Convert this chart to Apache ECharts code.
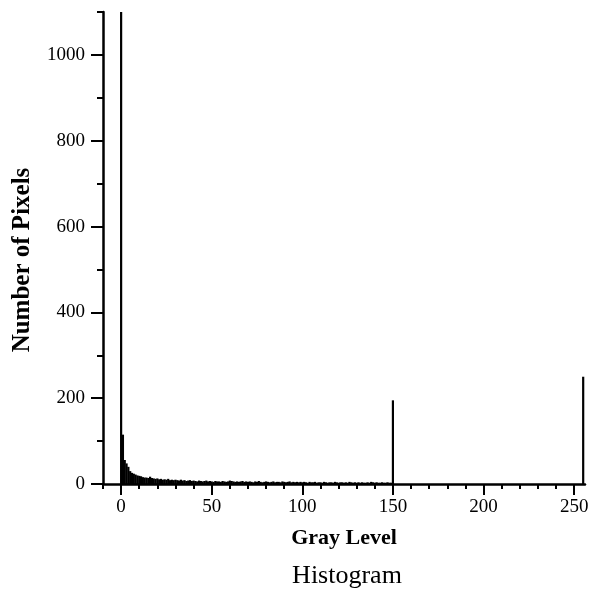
<!DOCTYPE html>
<html>
<head>
<meta charset="utf-8">
<script src="https://cdn.jsdelivr.net/npm/echarts@6/dist/echarts.min.js"></script>
<style>
  html, body { margin: 0; padding: 0; background: #fff; }
  #chart { width: 593px; height: 595px; }
</style>
</head>
<body>
<div id="chart"></div>
<script>
// pixel count for each gray level 0..255
const pixelCounts = [
  1100, 115, 56, 48, 40, 30, 26, 24, 22, 20,
  19, 18, 16, 15, 15, 14, 17, 14, 13, 12,
  13, 11, 12, 10, 11, 10, 12, 9, 10, 9,
  10, 9, 8, 10, 8, 9, 7, 8, 9, 7,
  8, 7, 6, 8, 7, 6, 7, 8, 6, 7,
  6, 5, 7, 6, 6, 5, 7, 6, 5, 6,
  8, 7, 6, 5, 6, 5, 6, 7, 5, 6,
  5, 6, 5, 4, 6, 5, 7, 5, 4, 5,
  6, 5, 4, 5, 6, 4, 5, 5, 4, 6,
  5, 4, 5, 6, 4, 5, 4, 5, 4, 5,
  4, 5, 4, 3, 5, 4, 4, 5, 3, 4,
  4, 3, 5, 4, 3, 4, 4, 3, 5, 4,
  3, 4, 4, 3, 4, 3, 5, 4, 3, 4,
  3, 4, 3, 4, 3, 3, 4, 3, 5, 4,
  3, 4, 3, 3, 4, 3, 3, 4, 3, 3,
  195, 0, 0, 0, 0, 0, 0, 0, 0, 0,
  0, 0, 0, 0, 0, 0, 0, 0, 0, 0,
  0, 0, 0, 0, 0, 0, 0, 0, 0, 0,
  0, 0, 0, 0, 0, 0, 0, 0, 0, 0,
  0, 0, 0, 0, 0, 0, 0, 0, 0, 0,
  0, 0, 0, 0, 0, 0, 0, 0, 0, 0,
  0, 0, 0, 0, 0, 0, 0, 0, 0, 0,
  0, 0, 0, 0, 0, 0, 0, 0, 0, 0,
  0, 0, 0, 0, 0, 0, 0, 0, 0, 0,
  0, 0, 0, 0, 0, 0, 0, 0, 0, 0,
  0, 0, 0, 0, 0, 250
]
const grayLevels = pixelCounts.map((_, i) => i)

const xTickLabels = [0, 50, 100, 150, 200, 250]
const yTickLabels = [0, 200, 400, 600, 800, 1000]

const xMin = -10, xMax = 256
const yMin = 0, yMax = 1100

// minor tick positions
const xMinor = []
for (let v = -10; v <= 250; v += 10) xMinor.push(v)
const yMinor = []
for (let v = 0; v <= 1100; v += 100) yMinor.push(v)

const serif = '"Liberation Serif", "DejaVu Serif", serif'
const ink = '#000'

const myChart = echarts.init(document.getElementById('chart'))

const option = {
  backgroundColor: '#fff',
  animation: false,
  title: {
    text: 'Histogram',
    left: 342,
    top: 558,
    textAlign: 'center',
    textStyle: { fontFamily: serif, fontSize: 26, fontWeight: 'normal', color: ink }
  },
  grid: { left: 103, right: 8, top: 12, bottom: 111 },
  xAxis: [
    {
      type: 'value',
      min: xMin,
      max: xMax,
      position: 'bottom',
      name: 'Gray Level',
      nameLocation: 'middle',
      nameGap: 43,
      nameTextStyle: { fontFamily: serif, fontSize: 22, fontWeight: 'bold', color: ink },
      axisLine: { show: true, onZero: false, lineStyle: { color: ink, width: 2.5 } },
      axisTick: { show: true, length: 11, customValues: xTickLabels, lineStyle: { color: ink, width: 2 } },
      axisLabel: { customValues: xTickLabels, margin: 14, fontFamily: serif, fontSize: 19, color: ink, formatter: v => String(v) },
      splitLine: { show: false }
    },
    {
      type: 'value',
      min: xMin,
      max: xMax,
      position: 'bottom',
      axisLine: { show: false, onZero: false },
      axisTick: { show: true, length: 5, customValues: xMinor, lineStyle: { color: ink, width: 2 } },
      axisLabel: { show: false },
      splitLine: { show: false }
    }
  ],
  yAxis: [
    {
      type: 'value',
      min: yMin,
      max: yMax,
      position: 'left',
      name: 'Number of Pixels',
      nameLocation: 'middle',
      nameGap: 68,
      nameTextStyle: { fontFamily: serif, fontSize: 25, fontWeight: 'bold', color: ink, padding: [0, 24, 0, 0] },
      axisLine: { show: true, onZero: false, lineStyle: { color: ink, width: 2.5 } },
      axisTick: { show: true, length: 12, customValues: yTickLabels, lineStyle: { color: ink, width: 2 } },
      axisLabel: { customValues: yTickLabels, margin: 18, fontFamily: serif, fontSize: 19, color: ink, formatter: v => String(v) },
      splitLine: { show: false }
    },
    {
      type: 'value',
      min: yMin,
      max: yMax,
      position: 'left',
      axisLine: { show: false, onZero: false },
      axisTick: { show: true, length: 6, customValues: yMinor, lineStyle: { color: ink, width: 2 } },
      axisLabel: { show: false },
      splitLine: { show: false }
    }
  ],
  series: [
    {
      type: 'bar',
      xAxisIndex: 0,
      yAxisIndex: 0,
      barWidth: 2.2,
      itemStyle: { color: '#000' },
      data: grayLevels.map((g, i) => [g, pixelCounts[i]])
    }
  ]
}
option && myChart.setOption(option)
</script>
</body>
</html>
